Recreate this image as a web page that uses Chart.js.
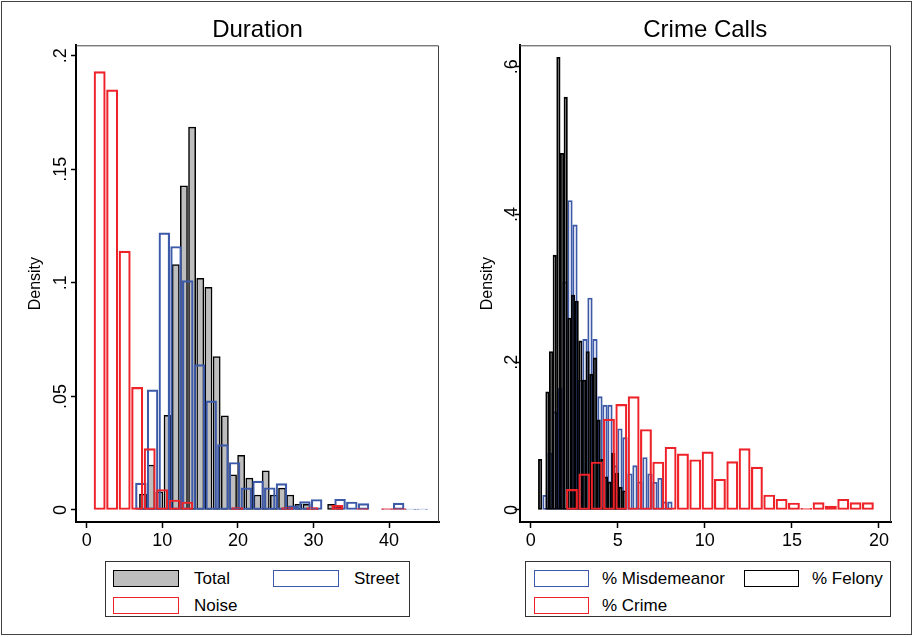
<!DOCTYPE html>
<html>
<head>
<meta charset="utf-8">
<script src="https://cdn.jsdelivr.net/npm/chart.js@4.4.1/dist/chart.umd.min.js"></script>
<style>
body { margin: 0; background: #fff; font-family: "Liberation Sans", Arial, sans-serif; }
#page { position: relative; width: 913px; height: 637px; background: #fff; }
#frame { position: absolute; left: 1px; top: 1px; width: 911px; height: 634px; border: 1px solid #444; box-sizing: border-box; }
canvas { position: absolute; top: 0; }
.legend { position: absolute; top: 561px; height: 56px; border: 1px solid #333; box-sizing: border-box; }
.item { position: absolute; height: 17px; display: flex; align-items: center; font-size: 17px; color: #000; white-space: nowrap; }
.sw { box-sizing: border-box; height: 17px; border: 1.5px solid #000; }
</style>
</head>
<body>
<div id="page">
  <div id="frame"></div>
  <canvas id="dur" width="456" height="555" style="left:0"></canvas>
  <canvas id="crime" width="457" height="555" style="left:456px"></canvas>
  <div class="legend" id="lgDur" style="left:105px; width:305px"></div>
  <div class="legend" id="lgCrime" style="left:525px; width:366px"></div>
</div>
<script>
Chart.defaults.font.family = "'Liberation Sans', Arial, sans-serif";
Chart.defaults.color = '#000';

// ---- Duration panel ----
const durSeries = ['Total', 'Street', 'Noise'];
const durTicksX = [0, 10, 20, 30, 40];
const durTicksY = [0, 0.05, 0.1, 0.15, 0.2];
const durLabelsY = ['0', '.05', '.1', '.15', '.2'];

// bins: [first bin centre, bin width]
const totalBin = [7.45, 1.082];
const totalDens = [0.007, 0.0198, 0.008, 0.0417, 0.108, 0.1427, 0.1686, 0.102, 0.098, 0.0675,
  0.0415, 0.0155, 0.0241, 0.014, 0.0066, 0.0172, 0.0066, 0.0096, 0.0066, 0.0025,
  0.0025, 0.0007, 0, 0.0025, 0.0012];
const streetBin = [7.165, 1.55];
const streetDens = [0.0118, 0.0529, 0.122, 0.116, 0.101, 0.064, 0.048, 0.0288, 0.0209, 0.0097,
  0.0127, 0.0098, 0.0116, 0.0018, 0.0037, 0.0046, 0, 0.0047, 0.0035, 0.0028,
  0, 0.0004, 0.003, 0.0004, 0.0004];
const noiseBin = [1.713, 1.655];
const noiseDens = [0.193, 0.185, 0.114, 0.054, 0.027, 0.009, 0.0044, 0.0035, 0, 0,
  0, 0.001, 0, 0, 0, 0.001, 0, 0.001, 0, 0.002,
  0, 0.0006, 0, 0.0006, 0.0006];

// ---- Crime Calls panel ----
const crimeSeries = ['% Misdemeanor', '% Felony', '% Crime'];
const crimeTicksX = [0, 5, 10, 15, 20];
const crimeTicksY = [0, 0.2, 0.4, 0.6];
const crimeLabelsY = ['0', '.2', '.4', '.6'];

const misdBin = [0.821, 0.287];
const misdDens = [0.02, 0.077, 0.133, 0.165, 0.309, 0.419, 0.386, 0.176, 0.231, 0.287,
  0.231, 0.1535, 0.142, 0.142, 0.06, 0.11, 0.098, 0.049, 0.06, 0.038,
  0.071, 0.049, 0.0375, 0.043, 0.011, 0.011];
const felonyBin = [0.541, 0.21];
const felonyDens = [0.0687, 0, 0.16, 0.2145, 0.345, 0.613, 0.483, 0.559, 0.26, 0.291,
  0.283, 0.229, 0.176, 0.2145, 0.184, 0.206, 0.122, 0.0687, 0.045, 0.038,
  0.077, 0.05, 0.031, 0.026];
const crimeBin = [2.371, 0.708];
const crimeDens = [0.028, 0.049, 0.065, 0.123, 0.143, 0.1535, 0.109, 0.065, 0.085, 0.076,
  0.068, 0.0786, 0.0416, 0.0655, 0.083, 0.058, 0.0203, 0.0145, 0.0095, 0.0023,
  0.0099, 0.0054, 0.0145, 0.0099, 0.0099];

const RED = '#ee2229', BLUE = '#3d5aa9', GREY = '#bebebe';

function hist(label, bin, dens, style) {
  return Object.assign({
    label: label,
    stack: 'h',               // one slot per x so bars overlay instead of grouping
    data: dens.map((d, k) => ({ x: bin[0] + k * bin[1], y: d })),
    borderSkipped: false,
    backgroundColor: 'rgba(0,0,0,0)',
    borderWidth: 1.5
  }, style);
}

// plot region outline (top and right)
const outline = {
  id: 'outline',
  afterDraw(chart) {
    const { ctx, chartArea: a } = chart;
    ctx.save();
    ctx.strokeStyle = '#444';
    ctx.lineWidth = 1;
    ctx.beginPath();
    ctx.moveTo(a.left, a.top + 0.5);
    ctx.lineTo(a.right - 0.5, a.top + 0.5);
    ctx.lineTo(a.right - 0.5, a.bottom);
    ctx.stroke();
    ctx.restore();
  }
};

function panel(id, title, datasets, xr, xt, yr, yt, yl, yWidth, yPad, titlePad, padRight) {
  new Chart(document.getElementById(id), {
    type: 'bar',
    data: { datasets: datasets },
    plugins: [outline],
    options: {
      responsive: false,
      animation: false,
      devicePixelRatio: 1,
      layout: { padding: { left: 0, right: padRight, top: 0, bottom: 0 } },
      plugins: {
        legend: { display: false },
        tooltip: { enabled: false },
        title: {
          display: true, text: title, fullSize: false,
          font: { size: 24, weight: 'normal' }, color: '#000',
          padding: { top: 15.5, bottom: 1 }
        }
      },
      scales: {
        x: {
          type: 'linear', min: xr[0], max: xr[1], offset: false, stacked: true,
          afterBuildTicks: s => { s.ticks = xt.map(v => ({ value: v })); },
          ticks: { callback: v => String(v), font: { size: 18 }, color: '#000', padding: 2, maxRotation: 0, autoSkip: false },
          grid: { drawOnChartArea: false, tickLength: 6, tickWidth: 1.5, tickColor: '#000', offset: false },
          border: { display: true, color: '#000', width: 2 },
          afterFit: s => { s.height = 33; }
        },
        y: {
          min: yr[0], max: yr[1], stacked: false,
          afterBuildTicks: s => { s.ticks = yt.map(v => ({ value: v })); },
          ticks: { callback: (v, i) => yl[i], font: { size: 18 }, color: '#000', minRotation: 90, maxRotation: 90,
            crossAlign: 'center', padding: yPad, autoSkip: false },
          grid: { drawOnChartArea: false, tickLength: 5, tickWidth: 1.5, tickColor: '#000' },
          border: { display: true, color: '#000', width: 2 },
          title: { display: true, text: 'Density', font: { size: 16 }, color: '#000', padding: { top: titlePad, bottom: 0 } },
          afterFit: s => { s.width = yWidth; }
        }
      }
    }
  });
}

panel('dur', 'Duration', [
  hist(durSeries[2], noiseBin, noiseDens, { borderColor: RED, barThickness: 11.3, order: 1 }),
  hist(durSeries[1], streetBin, streetDens, { borderColor: BLUE, barThickness: 10.8, order: 2 }),
  hist(durSeries[0], totalBin, totalDens, { borderColor: '#000', backgroundColor: GREY, barThickness: 7.2, order: 3 })
], [-1.416, 46.6], durTicksX, [-0.0053, 0.2046], durTicksY, durLabelsY, 76, -3, 25.5, 17);

panel('crime', 'Crime Calls', [
  hist(crimeSeries[2], crimeBin, crimeDens, { borderColor: RED, barThickness: 11.2, order: 1 }),
  hist(crimeSeries[1], felonyBin, felonyDens, { borderColor: '#000', borderWidth: 1.2, barThickness: 3.5, order: 2 }),
  hist(crimeSeries[0], misdBin, misdDens, { borderColor: BLUE, borderWidth: 1.2, barThickness: 4.6, order: 3 })
], [-0.643, 20.69], crimeTicksX, [-0.01625, 0.6292], crimeTicksY, crimeLabelsY, 63.5, -5.5, 21.5, 22);

// legends
function legend(id, names, styles, cols, swW) {
  const box = document.getElementById(id);
  names.forEach((n, i) => {
    const it = document.createElement('div');
    it.className = 'item';
    it.style.left = cols[i % 2] + 'px';
    it.style.top = (i < 2 ? 8 : 35) + 'px';
    const sw = document.createElement('span');
    sw.className = 'sw';
    sw.style.width = swW + 'px';
    sw.style.borderColor = styles[i][0];
    sw.style.background = styles[i][1];
    sw.style.marginRight = styles[i][2] + 'px';
    it.appendChild(sw);
    it.appendChild(document.createTextNode(n));
    box.appendChild(it);
  });
}
legend('lgDur', durSeries, [['#000', GREY, 15], [BLUE, '#fff', 15], [RED, '#fff', 15]], [7, 167], 66);
legend('lgCrime', crimeSeries, [[BLUE, '#fff', 13], ['#000', '#fff', 13], [RED, '#fff', 13]], [8, 218], 55);
</script>
</body>
</html>
